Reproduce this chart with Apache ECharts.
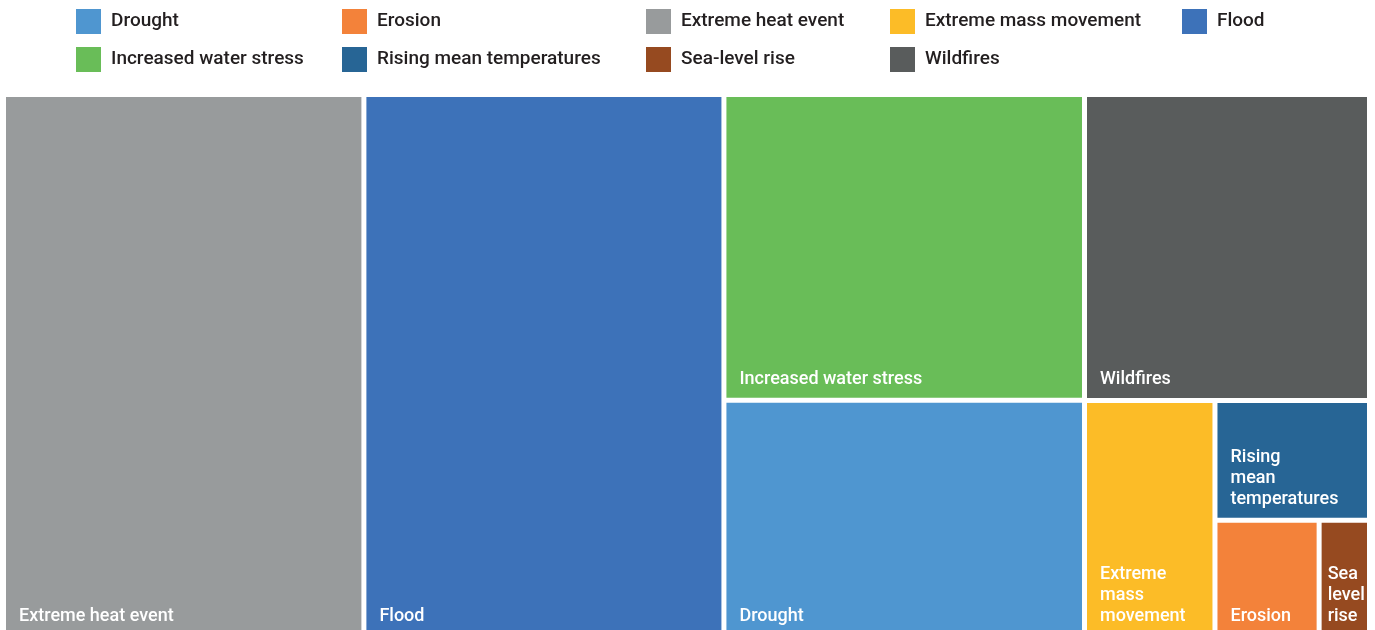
<!DOCTYPE html>
<html>
<head>
<meta charset="utf-8">
<script src="https://cdn.jsdelivr.net/npm/echarts@6/dist/echarts.min.js"></script>
<style>
  html, body { margin: 0; padding: 0; background: #ffffff; }
  #chart { width: 1375px; height: 630px; }
</style>
</head>
<body>
<div id="chart"></div>
<script>
// Climate hazard categories (legend order)
const categories = [
  'Drought', 'Erosion', 'Extreme heat event', 'Extreme mass movement', 'Flood',
  'Increased water stress', 'Rising mean temperatures', 'Sea-level rise', 'Wildfires'
];
// Relative weight of each hazard (tile area)
const values = [85.5, 12.2, 195.5, 30.9, 195.3, 110.1, 18.5, 5.9, 87.1];
// Tile text, with explicit line breaks for the narrow tiles
const tileLabels = [
  'Drought', 'Erosion', 'Extreme heat event', 'Extreme\nmass\nmovement', 'Flood',
  'Increased water stress', 'Rising\nmean\ntemperatures', 'Sea\nlevel\nrise', 'Wildfires'
];
const colors = [
  '#4f96d0', '#f3823a', '#989b9c', '#fcbc27', '#3d72b9',
  '#69bd58', '#276595', '#964a20', '#595c5c'
];
// Packing order of the tiles
const tileOrder = [
  'Extreme heat event', 'Flood', 'Increased water stress', 'Drought', 'Wildfires',
  'Extreme mass movement', 'Rising mean temperatures', 'Erosion', 'Sea-level rise'
];
// Legend grid: one column per entry
const legendColumns = [
  ['Drought', 'Increased water stress'],
  ['Erosion', 'Rising mean temperatures'],
  ['Extreme heat event', 'Sea-level rise'],
  ['Extreme mass movement', 'Wildfires'],
  ['Flood']
];

const FONT = "Roboto, 'Noto Sans', sans-serif";
const legendLefts = [76, 342, 646, 890, 1182];

const treeData = tileOrder.map(function (name) {
  const i = categories.indexOf(name);
  const label = { formatter: tileLabels[i] };
  // the slimmest tile keeps its text closer to the left edge
  if (name === 'Sea-level rise') {
    label.offset = [-2, 0];
  }
  return {
    name: name,
    value: values[i],
    itemStyle: { color: colors[i] },
    label: label
  };
});

// Empty series so the legend can show one swatch per category
const legendSeries = categories.map(function (name, i) {
  return {
    type: 'scatter',
    name: name,
    data: [],
    itemStyle: { color: colors[i], opacity: 1 },
    silent: true
  };
});

const legends = legendColumns.map(function (col, k) {
  return {
    data: col,
    orient: 'vertical',
    left: legendLefts[k],
    top: 9,
    padding: 0,
    itemWidth: 25,
    itemHeight: 25,
    itemGap: 13,
    icon: 'rect',
    selectedMode: false,
    itemStyle: { opacity: 1 },
    textStyle: {
      fontFamily: FONT,
      fontSize: 19,
      fontWeight: 500,
      color: '#231f20',
      padding: [5, 0, 0, 5]
    }
  };
});

const chart = echarts.init(document.getElementById('chart'), null, { renderer: 'canvas' });
chart.setOption({
  animation: false,
  backgroundColor: '#ffffff',
  legend: legends,
  grid: { show: false, left: 0, top: 0, width: 1, height: 1 },
  xAxis: { show: false, type: 'value' },
  yAxis: { show: false, type: 'value' },
  series: legendSeries.concat([{
    type: 'treemap',
    name: 'Hazards',
    left: 6,
    top: 97,
    width: 1361,
    height: 538,
    sort: false,
    squareRatio: 1,
    roam: false,
    nodeClick: false,
    breadcrumb: { show: false },
    itemStyle: { gapWidth: 5, borderWidth: 0 },
    label: {
      show: true,
      position: 'insideBottomLeft',
      distance: 8,
      offset: [5, 0],
      padding: 0,
      overflow: 'none',
      color: '#ffffff',
      fontFamily: FONT,
      fontSize: 18,
      fontWeight: 500,
      lineHeight: 21
    },
    emphasis: { disabled: true },
    data: treeData
  }])
});
</script>
</body>
</html>
